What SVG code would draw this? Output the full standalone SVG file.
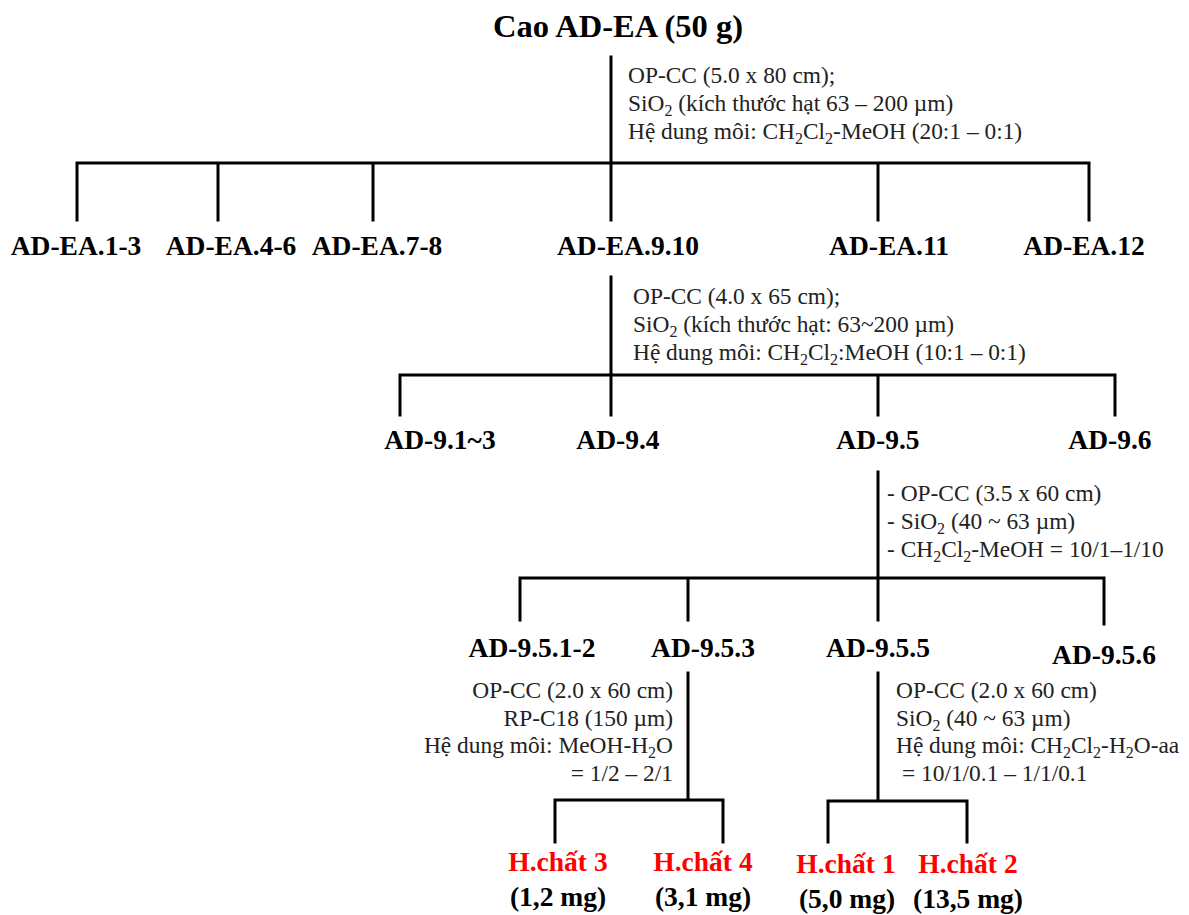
<svg xmlns="http://www.w3.org/2000/svg" width="1189" height="915" viewBox="0 0 1189 915">
<style>
.ln{stroke:#000;stroke-width:3;fill:none;stroke-linecap:square}
.t{font-family:"Liberation Serif","Times New Roman",serif;fill:#000}
.title{font-size:32.5px;font-weight:bold;text-anchor:middle}
.lbl{font-size:27.5px;font-weight:bold;text-anchor:middle}
.red{fill:#ff0000}
.ann{font-size:23.4px;fill:#222}
.end{text-anchor:end}
.sub{font-size:16px}
</style>
<rect width="1189" height="915" fill="#fff"/>
<g id="connectors">
<path class="ln" d="M611 57V163M77 163H1089M77 163V220M218 163V220M373 163V220M611 163V220M878 163V220M1089 163V220"/>
<path class="ln" d="M611 277V375M400 375H1115M400 375V415M611 375V415M878 375V415M1115 375V415"/>
<path class="ln" d="M878 472V578M520 578H1104M520 578V620M688 578V620M878 578V620M1104 578V624"/>
<path class="ln" d="M688 673V799M555 800H723M555 800V842M723 800V842"/>
<path class="ln" d="M878 673V799M828 801H967M828 801V842M967 801V842"/>
</g>
<g id="n-root"><text class="t title" x="618" y="37">Cao AD-EA (50 g)</text></g>
<g id="step1">
<text class="t ann" x="628" y="83">OP-CC (5.0 x 80 cm);</text>
<text class="t ann" x="628" y="111">SiO<tspan class="sub" dy="5">2</tspan><tspan dy="-5"> (kích thước hạt 63 – 200 µm)</tspan></text>
<text class="t ann" x="628" y="139">Hệ dung môi: CH<tspan class="sub" dy="5">2</tspan><tspan dy="-5">Cl</tspan><tspan class="sub" dy="5">2</tspan><tspan dy="-5">-MeOH (20:1 – 0:1)</tspan></text>
</g>
<g id="n-ea13"><text class="t lbl" x="76" y="255">AD-EA.1-3</text></g>
<g id="n-ea46"><text class="t lbl" x="231" y="255">AD-EA.4-6</text></g>
<g id="n-ea78"><text class="t lbl" x="377" y="255">AD-EA.7-8</text></g>
<g id="n-ea910"><text class="t lbl" x="628" y="255">AD-EA.9.10</text></g>
<g id="n-ea11"><text class="t lbl" x="889" y="255">AD-EA.11</text></g>
<g id="n-ea12"><text class="t lbl" x="1084" y="255">AD-EA.12</text></g>
<g id="step2">
<text class="t ann" x="633" y="304">OP-CC (4.0 x 65 cm);</text>
<text class="t ann" x="633" y="332">SiO<tspan class="sub" dy="5">2</tspan><tspan dy="-5"> (kích thước hạt: 63~200 µm)</tspan></text>
<text class="t ann" x="633" y="360">Hệ dung môi: CH<tspan class="sub" dy="5">2</tspan><tspan dy="-5">Cl</tspan><tspan class="sub" dy="5">2</tspan><tspan dy="-5">:MeOH (10:1 – 0:1)</tspan></text>
</g>
<g id="n-913"><text class="t lbl" x="440" y="449">AD-9.1~3</text></g>
<g id="n-94"><text class="t lbl" x="618" y="449">AD-9.4</text></g>
<g id="n-95"><text class="t lbl" x="878" y="449">AD-9.5</text></g>
<g id="n-96"><text class="t lbl" x="1110" y="449">AD-9.6</text></g>
<g id="step3">
<text class="t ann" x="887" y="501">- OP-CC (3.5 x 60 cm)</text>
<text class="t ann" x="887" y="529">- SiO<tspan class="sub" dy="5">2</tspan><tspan dy="-5"> (40 ~ 63 µm)</tspan></text>
<text class="t ann" x="887" y="557">- CH<tspan class="sub" dy="5">2</tspan><tspan dy="-5">Cl</tspan><tspan class="sub" dy="5">2</tspan><tspan dy="-5">-MeOH = 10/1–1/10</tspan></text>
</g>
<g id="n-9512"><text class="t lbl" x="532" y="657">AD-9.5.1-2</text></g>
<g id="n-953"><text class="t lbl" x="703" y="657">AD-9.5.3</text></g>
<g id="n-955"><text class="t lbl" x="878" y="657">AD-9.5.5</text></g>
<g id="n-956"><text class="t lbl" x="1104" y="664">AD-9.5.6</text></g>
<g id="step4a">
<text class="t ann end" x="673" y="698">OP-CC (2.0 x 60 cm)</text>
<text class="t ann end" x="673" y="726">RP-C18 (150 µm)</text>
<text class="t ann end" x="673" y="753">Hệ dung môi: MeOH-H<tspan class="sub" dy="5">2</tspan><tspan dy="-5">O</tspan></text>
<text class="t ann end" x="673" y="781">= 1/2 – 2/1</text>
</g>
<g id="step4b">
<text class="t ann" x="896" y="698">OP-CC (2.0 x 60 cm)</text>
<text class="t ann" x="896" y="726">SiO<tspan class="sub" dy="5">2</tspan><tspan dy="-5"> (40 ~ 63 µm)</tspan></text>
<text class="t ann" x="896" y="753">Hệ dung môi: CH<tspan class="sub" dy="5">2</tspan><tspan dy="-5">Cl</tspan><tspan class="sub" dy="5">2</tspan><tspan dy="-5">-H</tspan><tspan class="sub" dy="5">2</tspan><tspan dy="-5">O-aa</tspan></text>
<text class="t ann" x="902" y="781">= 10/1/0.1 – 1/1/0.1</text>
</g>
<g id="n-hc3"><text class="t lbl red" x="558" y="871">H.chất 3</text><text class="t lbl" x="558" y="906">(1,2 mg)</text></g>
<g id="n-hc4"><text class="t lbl red" x="703" y="871">H.chất 4</text><text class="t lbl" x="703" y="906">(3,1 mg)</text></g>
<g id="n-hc1"><text class="t lbl red" x="846" y="873">H.chất 1</text><text class="t lbl" x="847" y="908">(5,0 mg)</text></g>
<g id="n-hc2"><text class="t lbl red" x="968" y="873">H.chất 2</text><text class="t lbl" x="968" y="908">(13,5 mg)</text></g>
</svg>
